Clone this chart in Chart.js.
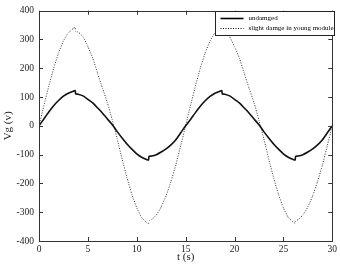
<!DOCTYPE html>
<html>
<head>
<meta charset="utf-8">
<script src="https://cdn.jsdelivr.net/npm/chart.js@4"></script>
<style>
  html, body { margin: 0; padding: 0; background: #fff; }
  #wrap { width: 340px; height: 264px; }
</style>
</head>
<body>
<div id="wrap"><canvas id="vgChart"></canvas></div>
<script>
// values
const tUndamaged = [0, 0.5, 1, 1.5, 2, 2.5, 3, 3.5, 3.7, 3.75, 4, 4.5, 5, 5.5, 6, 6.5, 7, 7.5, 8, 8.5, 9, 9.5, 10, 10.5, 11, 11.2, 11.25, 11.5, 12, 12.5, 13, 13.5, 14, 14.5, 15,
    15.5, 16, 16.5, 17, 17.5, 18, 18.5, 18.7, 18.75, 19, 19.5, 20, 20.5, 21, 21.5, 22, 22.5, 23, 23.5, 24, 24.5, 25, 25.5, 26, 26.2, 26.25, 26.5, 27, 27.5, 28, 28.5, 29, 29.5, 30];
const undamaged = [0, 24, 48, 70, 88, 103, 113, 120, 123, 111, 110, 104, 92, 80, 62, 44, 24, 4, -20, -42, -63, -81, -97, -109, -117, -119, -106, -105, -100, -91, -80, -66, -48, -24, 0,
    22, 46, 68, 87, 102, 113, 120, 123, 111, 110, 104, 92, 80, 62, 44, 24, 4, -20, -42, -63, -81, -97, -109, -117, -119, -106, -105, -100, -91, -80, -66, -48, -24, 0];
const damaged = [0, 70, 138, 200, 253, 295, 323, 338, 342, 328, 326, 310, 275, 235, 182, 130, 80, 20, -45, -115, -180, -238, -285, -318, -336, -340, -330, -326, -310, -282, -243, -193, -135, -68, 0,
    70, 138, 200, 253, 295, 323, 338, 342, 328, 326, 310, 275, 235, 182, 130, 80, 20, -45, -115, -180, -238, -285, -318, -334, -338, -330, -326, -310, -282, -243, -193, -135, -68, 0];
const seriesLabels = ['undamged', 'slight damge in young module'];
const xTicks = [0, 5, 10, 15, 20, 25, 30];
const yTicks = [-400, -300, -200, -100, 0, 100, 200, 300, 400];

const serif = '"Liberation Serif", "DejaVu Serif", serif';

function toPoints(ts, vs) {
    return ts.map((t, i) => ({ x: t, y: vs[i] }));
}

// box frame + inward ticks on all four sides
const framePlugin = {
    id: 'frame',
    afterDatasetsDraw(chart) {
        const { ctx, chartArea: a, scales } = chart;
        ctx.save();
        ctx.strokeStyle = '#333';
        ctx.lineWidth = 1;
        ctx.beginPath();
        xTicks.forEach(v => {
            const px = Math.round(scales.x.getPixelForValue(v)) + 0.5;
            ctx.moveTo(px, a.bottom); ctx.lineTo(px, a.bottom - 4);
            ctx.moveTo(px, a.top); ctx.lineTo(px, a.top + 4);
        });
        yTicks.forEach(v => {
            const py = Math.round(scales.y.getPixelForValue(v)) + 0.5;
            ctx.moveTo(a.left, py); ctx.lineTo(a.left + 4, py);
            ctx.moveTo(a.right, py); ctx.lineTo(a.right - 4, py);
        });
        ctx.stroke();
        ctx.strokeRect(Math.round(a.left) + 0.5, Math.round(a.top) + 0.5,
            Math.round(a.right - a.left), Math.round(a.bottom - a.top));
        ctx.restore();
    },
    afterDraw(chart) {
        // legend box in the top right corner
        const { ctx, chartArea: a } = chart;
        const w = 119, h = 24;
        const x0 = Math.round(a.right) - w + 2.5, y0 = Math.round(a.top) + 0.5;
        ctx.save();
        ctx.fillStyle = '#fff';
        ctx.fillRect(x0, y0, w, h);
        ctx.strokeStyle = '#222';
        ctx.lineWidth = 1;
        ctx.strokeRect(x0, y0, w, h);
        ctx.font = '7px ' + serif;
        ctx.textBaseline = 'middle';
        chart.data.datasets.forEach((ds, i) => {
            const yy = y0 + 7 + i * 10;
            ctx.beginPath();
            ctx.strokeStyle = '#000';
            ctx.lineWidth = ds.borderWidth;
            ctx.setLineDash(ds.borderDash || []);
            ctx.moveTo(x0 + 5, yy);
            ctx.lineTo(x0 + 28, yy);
            ctx.stroke();
            ctx.setLineDash([]);
            ctx.fillStyle = '#000';
            ctx.fillText(ds.label, x0 + 33, yy);
        });
        ctx.restore();
    }
};

new Chart(document.getElementById('vgChart'), {
    type: 'line',
    data: {
        datasets: [
            {
                label: seriesLabels[0],
                data: toPoints(tUndamaged, undamaged),
                borderColor: '#111',
                borderWidth: 1.6,
                pointRadius: 0,
                tension: 0.15,
                fill: false
            },
            {
                label: seriesLabels[1],
                data: toPoints(tUndamaged, damaged),
                borderColor: '#333',
                borderWidth: 1,
                borderDash: [1, 1.5],
                pointRadius: 0,
                tension: 0.15,
                fill: false
            }
        ]
    },
    options: {
        responsive: true,
        maintainAspectRatio: false,
        animation: false,
        layout: { padding: { top: 5, right: 5, left: 2, bottom: 0 } },
        plugins: {
            legend: { display: false },
            tooltip: { enabled: false }
        },
        scales: {
            x: {
                type: 'linear',
                min: 0,
                max: 30,
                grid: { display: false, drawTicks: false },
                border: { display: false },
                afterBuildTicks: s => { s.ticks = xTicks.map(v => ({ value: v })); },
                afterFit: s => { s.height = 23; },
                ticks: {
                    color: '#222',
                    padding: 3,
                    maxRotation: 0,
                    font: { family: serif, size: 9.5 }
                },
                title: {
                    display: true,
                    text: 't (s)',
                    color: '#222',
                    padding: { top: 0, bottom: 0 },
                    font: { family: serif, size: 11 }
                }
            },
            y: {
                min: -400,
                max: 400,
                grid: { display: false, drawTicks: false },
                border: { display: false },
                afterBuildTicks: s => { s.ticks = yTicks.map(v => ({ value: v })); },
                afterFit: s => { s.width = 37; },
                ticks: {
                    color: '#222',
                    padding: 5,
                    font: { family: serif, size: 9.5 }
                },
                title: {
                    display: true,
                    text: 'Vg (v)',
                    color: '#222',
                    padding: { top: 0, bottom: 0 },
                    font: { family: serif, size: 11 }
                }
            }
        }
    },
    plugins: [framePlugin]
});
</script>
</body>
</html>
